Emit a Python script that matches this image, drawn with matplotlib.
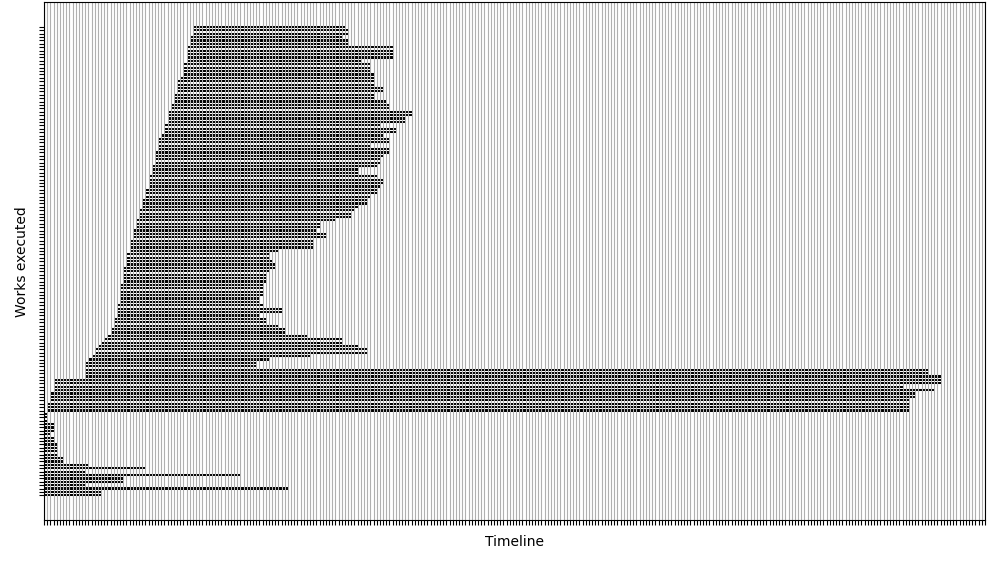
import matplotlib
matplotlib.use('Agg')
import matplotlib.pyplot as plt
import numpy as np

# start / end time of each work, listed from the top row down
starts = [47, 47, 47, 46, 46, 46, 45, 45, 45, 45,
          45, 44, 44, 44, 44, 43, 42, 42, 42, 42,
          41, 41, 41, 40, 40, 39, 39, 39, 39, 38,
          38, 38, 37, 36, 36, 36, 36, 35, 35, 35,
          35, 34, 34, 34, 33, 33, 33, 33, 32, 32,
          32, 31, 31, 31, 30, 30, 30, 29, 29, 29,
          28, 28, 28, 27, 27, 27, 27, 26, 26, 26,
          26, 25, 25, 25, 25, 25, 24, 24, 24, 24,
          24, 24, 23, 23, 23, 23, 22, 22, 22, 21,
          21, 20, 19, 18, 17, 16, 16, 15, 14, 13,
          13, 13, 13, 13, 3, 3, 3, 3, 2, 2,
          2, 1, 1, 1, 0, 0, 0, 0, 0, 0,
          0, 0, 0, 0, 0, 0, 0, 0, 0, 0,
          0, 0, 0, 0, 0, 0, 0, 0, 0]
ends = [95, 96, 96, 94, 96, 96, 110, 110, 110, 110,
        100, 103, 103, 103, 104, 104, 104, 104, 107, 107,
        104, 104, 108, 109, 109, 116, 116, 114, 114, 106,
        111, 111, 107, 109, 109, 103, 109, 109, 107, 106,
        106, 105, 99, 99, 105, 107, 107, 106, 105, 105,
        103, 102, 102, 99, 98, 97, 97, 92, 87, 87,
        86, 89, 89, 85, 85, 85, 74, 71, 71, 72,
        73, 73, 71, 70, 70, 70, 69, 69, 69, 69,
        68, 68, 69, 75, 75, 68, 70, 70, 74, 76,
        76, 83, 94, 94, 99, 102, 102, 84, 71, 67,
        67, 279, 279, 283, 283, 283, 271, 281, 275, 275,
        273, 273, 273, 273, 1, 1, 1, 3, 3, 3,
        2, 3, 3, 4, 4, 4, 4, 6, 6, 14,
        32, 13, 62, 25, 25, 13, 77, 18, 18]

n = len(starts)
rows = np.arange(n)[::-1]
widths = np.array(ends) - np.array(starts)

fig, ax = plt.subplots(figsize=(10, 5.64), dpi=100)
ax.barh(rows, widths, left=starts, height=0.65, color='black')

ax.set_yticks(np.arange(n))
ax.set_yticklabels([])
ax.set_xticks(np.arange(0, 298))
ax.set_xticklabels([])
ax.set_xlim(0, 297)
ax.grid(True, axis='x')

ax.set_xlabel('Timeline')
ax.set_ylabel('Works executed')

fig.subplots_adjust(left=0.044, right=0.985, top=0.996, bottom=0.078)
fig.savefig('out.png')
